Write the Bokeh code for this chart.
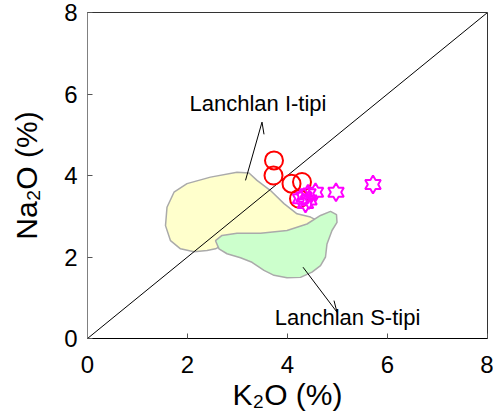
import numpy as np
from bokeh.plotting import figure
from bokeh.models import Range1d, Label, FixedTicker
from bokeh.embed import file_html
from bokeh.resources import INLINE

# ---- data ----
circle_k2o = [3.73, 3.72, 4.08, 4.29, 4.23]
circle_na2o = [4.37, 4.00, 3.80, 3.84, 3.43]

star_k2o = [5.71, 4.97, 4.56, 4.41, 4.33, 4.36, 4.43, 4.26]
star_na2o = [3.78, 3.59, 3.59, 3.55, 3.47, 3.31, 3.40, 3.43]

itype_k2o = [1.59, 1.73, 1.99, 2.46, 2.99, 3.23, 3.39, 3.66, 3.93, 4.19, 4.46, 4.59,
             4.36, 2.86, 2.56, 2.39, 2.13, 1.86, 1.66, 1.56]
itype_na2o = [3.22, 3.59, 3.80, 3.96, 4.08, 4.06, 3.88, 3.63, 3.31, 3.06, 2.98, 2.90,
              2.60, 2.40, 2.20, 2.16, 2.13, 2.20, 2.40, 2.77]

stype_k2o = [2.56, 2.69, 2.99, 3.46, 3.99, 4.39, 4.66, 4.86, 4.98, 4.99, 4.89, 4.79,
             4.76, 4.66, 4.49, 4.26, 3.99, 3.73, 3.53, 3.29, 3.06, 2.79, 2.63]
stype_na2o = [2.40, 2.53, 2.58, 2.58, 2.65, 2.81, 3.02, 3.12, 3.04, 2.85, 2.65, 2.32,
              2.00, 1.79, 1.63, 1.50, 1.49, 1.55, 1.67, 1.87, 1.98, 2.08, 2.20]

ref_k2o = [0, 8]
ref_na2o = [0, 8]

label_i = "Lanchlan I-tipi"
label_s = "Lanchlan S-tipi"
label_i_pos = (3.41, 5.77)
label_s_pos = (5.20, 0.52)
leader_i_x = [3.16, 3.49]
leader_i_y = [3.88, 5.31]
barb_i_x = [3.49, 3.53]
barb_i_y = [5.31, 5.01]
leader_s_x = [4.31, 4.99]
leader_s_y = [1.75, 0.645]
barb_s_x = [4.99, 4.93]
barb_s_y = [0.645, 0.93]

ticks = [0, 2, 4, 6, 8]

FONT = "Liberation Sans"
FRAME_W, FRAME_H = 400, 326

p = figure(width=493, height=418, output_backend="svg", toolbar_location=None,
           x_range=Range1d(0, 8), y_range=Range1d(0, 8),
           min_border_left=87, min_border_right=6, min_border_top=12, min_border_bottom=80)
p.grid.visible = False
p.outline_line_color = "#333333"
p.background_fill_color = "white"

for ax in (p.xaxis[0], p.yaxis[0]):
    ax.ticker = FixedTicker(ticks=ticks)
    ax.major_tick_in = 5
    ax.major_tick_out = 0
    ax.minor_tick_line_color = None
    ax.major_label_text_font = FONT
    ax.major_label_text_font_size = "24px"
    ax.major_label_text_color = "black"
    ax.axis_label_text_font = FONT
    ax.axis_label_text_font_size = "30px"
    ax.axis_label_text_font_style = "normal"
    ax.axis_label_text_color = "black"
    ax.major_tick_line_color = "#555555"

p.xaxis.axis_label = "K\u2082O (%)"
p.yaxis.axis_label = "Na\u2082O (%)"
p.xaxis.axis_line_color = "black"
p.yaxis.axis_line_color = "#808080"
p.xaxis.major_label_standoff = 17
p.yaxis.major_label_standoff = 10
p.xaxis.axis_label_standoff = 2
p.yaxis.axis_label_standoff = 18

# fields
p.patch(itype_k2o, itype_na2o, fill_color="#FFFFCC", line_color="#AAAAAA", line_width=1.5)
p.patch(stype_k2o, stype_na2o, fill_color="#CCFFCC", line_color="#AAAAAA", line_width=1.5)

# 1:1 line
p.line(ref_k2o, ref_na2o, line_color="black", line_width=1)

# circles
p.scatter(circle_k2o, circle_na2o, marker="circle", size=18, fill_color=None,
          line_color="#FF0000", line_width=2)

# six-pointed stars built around each data point
sx = FRAME_W / 8.0
sy = FRAME_H / 8.0
R = 9.0
r = R / np.sqrt(3)
ang = np.deg2rad(90 + 30 * np.arange(12))
rad = np.array([R if i % 2 == 0 else r for i in range(12)])
xs = [list(x + rad * np.cos(ang) / sx) for x in star_k2o]
ys = [list(y + rad * np.sin(ang) / sy) for y in star_na2o]
p.patches(xs, ys, fill_color=None, line_color="#FF00FF", line_width=2)

# annotations
p.line(leader_i_x, leader_i_y, line_color="black", line_width=1)
p.line(barb_i_x, barb_i_y, line_color="black", line_width=1)
p.line(leader_s_x, leader_s_y, line_color="black", line_width=1)
p.line(barb_s_x, barb_s_y, line_color="black", line_width=1)
p.add_layout(Label(x=label_i_pos[0], y=label_i_pos[1], text=label_i, text_font=FONT,
                   text_font_size="22px", text_color="black",
                   text_align="center", text_baseline="middle"))
p.add_layout(Label(x=label_s_pos[0], y=label_s_pos[1], text=label_s, text_font=FONT,
                   text_font_size="22px", text_color="black",
                   text_align="center", text_baseline="middle"))

open("out.html", "w").write(file_html(p, INLINE))
